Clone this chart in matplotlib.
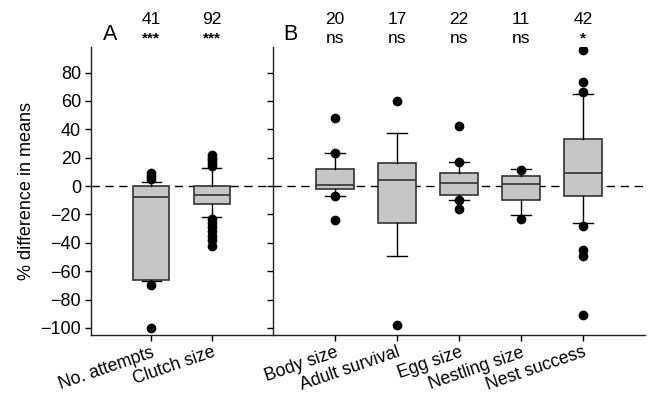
import matplotlib
matplotlib.use("Agg")
import matplotlib.pyplot as plt
import matplotlib.transforms as mtransforms

plt.rcParams['font.family'] = ['Liberation Sans', 'DejaVu Sans']

# Panel A data
a_labels = ["No. attempts", "Clutch size"]
a_n = ["41", "92"]
a_sig = ["***", "***"]
a_q1 = [-66.5, -13]
a_med = [-8, -6]
a_q3 = [0, 0]
a_whislo = [-67, -22]
a_whishi = [3, 13]
a_fliers = [
    [5, 7, 9, -69.5, -100],
    [14, 16, 18, 20, 22, -23, -26, -29, -32, -35, -38, -42],
]

# Panel B data
b_labels = ["Body size", "Adult survival", "Egg size", "Nestling size", "Nest success"]
b_n = ["20", "17", "22", "11", "42"]
b_sig = ["ns", "ns", "ns", "ns", "*"]
b_q1 = [-2, -26, -6.5, -9.5, -7]
b_med = [1, 4, 2, 1.5, 9]
b_q3 = [12, 16, 9, 7, 33]
b_whislo = [-7, -49, -10, -20.5, -26]
b_whishi = [23, 37.7, 17, 12, 65]
b_fliers = [
    [23, 48, -7, -24],
    [60, -98],
    [17, 42, -10, -16.5],
    [11.6, -23],
    [66, 73, 96, -28, -45, -49, -91],
]

fig = plt.figure(figsize=(6.49, 3.93), dpi=100)
axA = fig.add_axes([90.7/649, 1-335/393, 181.6/649, 288/393])
axB = fig.add_axes([273/649, 1-335/393, 372/649, 288/393])

box_face = "#c6c6c6"
edge = "#333333"


def draw(ax, labels, q1, med, q3, wlo, whi, fliers, ns, sigs, letter, show_ylabels):
    stats = []
    for i in range(len(labels)):
        stats.append(dict(med=med[i], q1=q1[i], q3=q3[i], whislo=wlo[i],
                          whishi=whi[i], fliers=fliers[i], label=labels[i]))
    pos = list(range(1, len(labels) + 1))
    ax.axhline(0, color="black", lw=1.0, dashes=(6, 4), zorder=0)
    ax.bxp(stats, positions=pos, widths=0.6, patch_artist=True,
           showfliers=True,
           boxprops=dict(facecolor=box_face, edgecolor=edge, linewidth=1.2),
           medianprops=dict(color=edge, linewidth=1.2),
           whiskerprops=dict(color="black", linewidth=1.0),
           capprops=dict(color="black", linewidth=1.0),
           capwidths=0.32,
           flierprops=dict(marker="o", markerfacecolor="black",
                           markeredgecolor="black", markersize=6))
    ax.set_xlim(0, len(labels) + 1)
    ax.set_ylim(-105, 98)
    ax.set_yticks([-100, -80, -60, -40, -20, 0, 20, 40, 60, 80])
    ax.set_yticklabels(["\u2212100", "\u221280", "\u221260", "\u221240", "\u221220",
                        "0", "20", "40", "60", "80"])
    ax.set_xticks(pos)
    ax.set_xticklabels(labels, rotation=19, ha="right", va="top",
                       rotation_mode="anchor")
    ax.tick_params(axis="both", direction="out", length=4, width=1,
                   labelsize=13, colors="black", pad=3)
    ax.tick_params(axis="x", labelsize=12.7, pad=2.5)
    if not show_ylabels:
        ax.tick_params(axis="y", labelleft=False)
    for s in ["top", "right"]:
        ax.spines[s].set_visible(False)
    for s in ["left", "bottom"]:
        ax.spines[s].set_linewidth(1.0)
        ax.spines[s].set_color("#222222")
    trans = mtransforms.blended_transform_factory(ax.transData, ax.transAxes)
    for i, (n, s) in enumerate(zip(ns, sigs)):
        ax.text(pos[i], 1.097, n, transform=trans, ha="center", va="center",
                fontsize=12.5)
        if s == "ns":
            ax.text(pos[i], 1.028, s, transform=trans, ha="center", va="center",
                    fontsize=12.5)
        else:
            ax.text(pos[i], 1.030, s, transform=trans, ha="center", va="center",
                    fontsize=11, fontweight="bold")
    ax.text(letter[1], 1.042, letter[0], transform=ax.transAxes,
            ha="center", va="center", fontsize=15.5)


draw(axA, a_labels, a_q1, a_med, a_q3, a_whislo, a_whishi, a_fliers, a_n, a_sig,
     ("A", 0.106), True)
draw(axB, b_labels, b_q1, b_med, b_q3, b_whislo, b_whishi, b_fliers, b_n, b_sig,
     ("B", 0.046), False)

axA.set_ylabel("% difference in means", fontsize=13, labelpad=4)

fig.savefig("out.png", dpi=100)
